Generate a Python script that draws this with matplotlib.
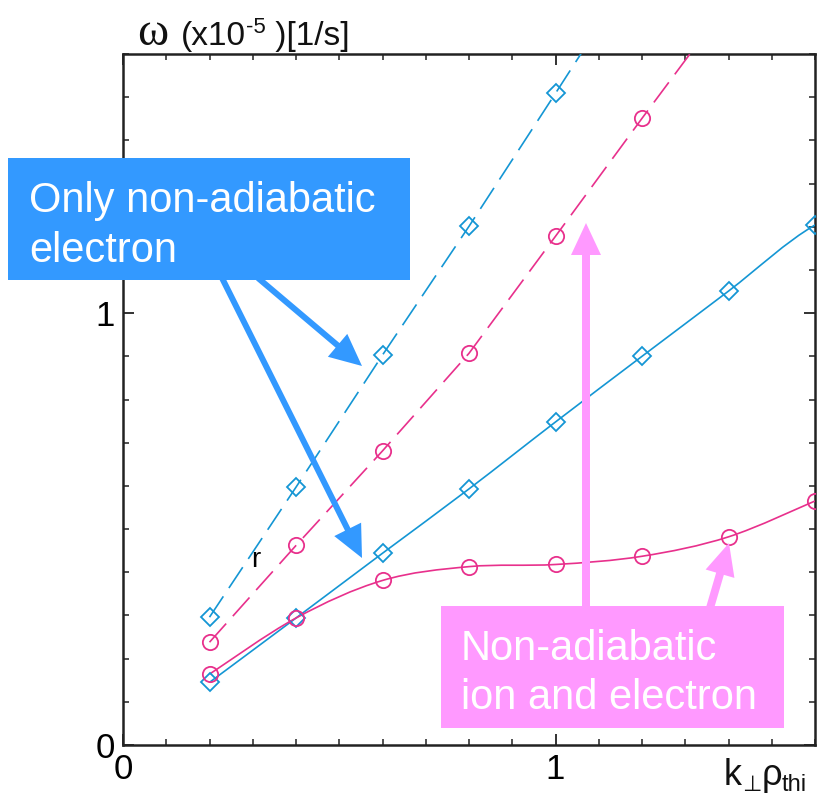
import numpy as np
import matplotlib
matplotlib.use("Agg")
import matplotlib.pyplot as plt
from matplotlib.path import Path
from matplotlib.patches import PathPatch, Rectangle, FancyArrow
from matplotlib.ticker import MultipleLocator, FixedLocator

plt.rcParams['font.family'] = ['Liberation Sans', 'DejaVu Sans']

# k_perp * rho_thi sample points
k = [0.2, 0.4, 0.6, 0.8, 1.0, 1.2, 1.4, 1.6, 1.8]

# only non-adiabatic electron
elec_dashed = [0.296, 0.597, 0.903, 1.201, 1.509, 1.82]
elec_solid = [0.145, 0.294, 0.444, 0.593, 0.748, 0.900, 1.051, 1.204, 1.28]

# non-adiabatic ion and electron
both_dashed = [0.238, 0.462, 0.681, 0.907, 1.178, 1.451, 1.72]
both_solid = [0.164, 0.294, 0.381, 0.413, 0.418, 0.437, 0.482, 0.565]

BLUE = '#1496d4'
PINK = '#e8308c'
BOX_BLUE = '#3399ff'
BOX_PINK = '#ff99ff'
INK = '#111111'

W, H = 817, 799
fig = plt.figure(figsize=(W / 100, H / 100), dpi=100)
ax = fig.add_axes([123 / W, 1 - 745 / H, (815 - 123) / W, (745 - 54) / H])
ax.set_xlim(0, 1.6)
ax.set_ylim(0, 1.6)


def smooth_path(xs, ys):
    """Catmull-Rom curve through the points as cubic Bezier segments."""
    pts = np.column_stack([xs, ys])
    n = len(pts)
    verts = [pts[0]]
    codes = [Path.MOVETO]
    for i in range(n - 1):
        p0 = pts[max(i - 1, 0)]
        p1 = pts[i]
        p2 = pts[i + 1]
        p3 = pts[min(i + 2, n - 1)]
        c1 = p1 + (p2 - p0) / 6.0
        c2 = p2 - (p3 - p1) / 6.0
        verts += [c1, c2, p2]
        codes += [Path.CURVE4] * 3
    return Path(verts, codes)


lw = 1.2
# solid (smooth) curves
for ys, col in [(elec_solid, BLUE), (both_solid, PINK)]:
    xs = k[:len(ys)]
    patch = PathPatch(smooth_path(xs, ys), fill=False, edgecolor=col,
                      lw=lw, zorder=3)
    ax.add_patch(patch)
    patch.set_clip_path(ax.patch)

# dashed lines
ax.plot(k[:len(elec_dashed)], elec_dashed, color=BLUE, lw=lw,
        dashes=(15, 6), zorder=3)
ax.plot(k[:len(both_dashed)], both_dashed, color=PINK, lw=lw,
        dashes=(15, 6), zorder=3)

# markers
mk = dict(ls='none', mfc='none', mew=1.3, zorder=4)
ax.plot(k[:len(elec_dashed)], elec_dashed, marker='D', ms=9.5, mec=BLUE, **mk)
ax.plot(k[:len(elec_solid)], elec_solid, marker='D', ms=9.5, mec=BLUE, **mk)
ax.plot(k[:len(both_dashed)], both_dashed, marker='o', ms=11, mec=PINK, **mk)
ax.plot(k[:len(both_solid)], both_solid, marker='o', ms=11, mec=PINK, **mk)

# axes styling
for s in ax.spines.values():
    s.set_linewidth(1.8)
    s.set_color('#222222')
ax.xaxis.set_major_locator(FixedLocator([0, 1]))
ax.yaxis.set_major_locator(FixedLocator([0, 1]))
ax.xaxis.set_minor_locator(MultipleLocator(0.1))
ax.yaxis.set_minor_locator(MultipleLocator(0.1))
ax.tick_params(which='both', direction='in', top=True, right=True,
               color='#222222')
ax.tick_params(which='major', length=8, width=1.3, labelsize=25, pad=6)
ax.tick_params(which='minor', length=4.5, width=1.1)
ax.set_xticklabels(['0', '1'])
ax.set_yticklabels(['0', '1'])

# overlay in pixel coordinates for labels, boxes and arrows
ov = fig.add_axes([0, 0, 1, 1], zorder=10)
ov.set_xlim(0, W)
ov.set_ylim(H, 0)
ov.axis('off')
ov.patch.set_alpha(0)
renderer = fig.canvas.get_renderer()


def run_of_text(x, pieces):
    """Lay out text pieces left to right; each piece is (text, size, dy, kw)."""
    for txt, size, y, kw in pieces:
        t = ov.text(x, y, txt, fontsize=size, ha='left', va='baseline',
                    color=INK, **kw)
        x += t.get_window_extent(renderer).width


# y-axis quantity
run_of_text(138, [('ω ', 34, 45, dict(family='Liberation Serif')),
                  ('(x10', 24, 45, {}),
                  ('-5', 16, 33, {}),
                  (' )[1/s]', 24, 45, {})])

# x-axis quantity: k_perp rho_thi
run_of_text(724, [('k', 26, 785, {}),
                  ('⊥', 16, 791, dict(family='DejaVu Sans')),
                  ('ρ', 26, 785, {}),
                  ('thi', 17, 791, {})])

ov.text(251, 567, 'r', fontsize=20, ha='left', va='baseline', color='black')

# arrows
def arrow(x0, y0, x1, y1, col, w):
    ov.add_patch(FancyArrow(x0, y0, x1 - x0, y1 - y0, width=w,
                            head_width=30, head_length=32,
                            length_includes_head=True, color=col, lw=0))

arrow(258, 278, 362, 366, BOX_BLUE, 6)
arrow(222, 278, 362, 558, BOX_BLUE, 6)
arrow(586, 608, 586, 223, BOX_PINK, 8)
arrow(710, 608, 729, 543, BOX_PINK, 8)

# boxes
ov.add_patch(Rectangle((8, 158), 402, 122, color=BOX_BLUE, lw=0))
ov.add_patch(Rectangle((441, 606), 343, 122, color=BOX_PINK, lw=0))
fs = 30
ov.text(29, 212, 'Only non-adiabatic', fontsize=fs, color='white',
        va='baseline')
ov.text(29, 262, 'electron', fontsize=fs, color='white', va='baseline')
ov.text(461, 660, 'Non-adiabatic', fontsize=fs, color='white',
        va='baseline')
ov.text(461, 709, 'ion and electron', fontsize=fs, color='white',
        va='baseline')

fig.savefig('out.png', dpi=100)
